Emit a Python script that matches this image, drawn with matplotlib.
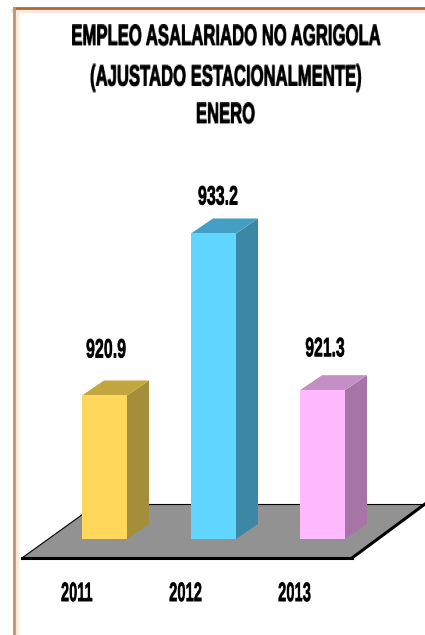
import matplotlib
matplotlib.use('Agg')
import numpy as np
import matplotlib.pyplot as plt
import matplotlib.patheffects as pe
from matplotlib.patches import Polygon

# chart data
years = ['2011', '2012', '2013']
values = [920.9, 933.2, 921.3]
title_lines = ['EMPLEO ASALARIADO NO AGRIGOLA', '(AJUSTADO ESTACIONALMENTE)', 'ENERO']

front_colors = ['#FFD75A', '#5FD5FF', '#FFB9FF']
side_colors = ['#A68D3A', '#3D87A6', '#A675A6']
top_colors = ['#C4A640', '#43A0C4', '#C48FC4']

plt.rcParams['font.family'] = ['Liberation Sans', 'DejaVu Sans']
plt.rcParams['font.weight'] = 'bold'

W, H = 425, 635
BASE = 910.0
PX_X = 109.0    # pixels per category
PX_Y = 13.17    # pixels per value unit
BAR_W = 45 / PX_X
DX = 22 / PX_X  # 3d depth
DY = 15 / PX_Y

# a bit heavier, the squeeze thins the strokes
heavy = [pe.withStroke(linewidth=0.7, foreground='black')]


# area resample along one axis
def resample(img, new_n, axis):
    img = np.moveaxis(img, axis, 0)
    n = img.shape[0]
    edges = np.linspace(0, n, new_n + 1)
    cum = np.concatenate([np.zeros((1,) + img.shape[1:]), np.cumsum(img, axis=0)], axis=0)
    lo = np.minimum(edges.astype(int), n - 1)
    frac = (edges - lo).reshape((-1,) + (1,) * (img.ndim - 1))
    at_edges = cum[lo] + (cum[lo + 1] - cum[lo]) * frac
    out = np.diff(at_edges, axis=0) / (n / new_n)
    return np.moveaxis(out, 0, axis)


# the original text is squeezed sideways, no narrow font here so do it on the drawn text
def squeeze(fx, fy=1.0):
    def process(img, dpi):
        h, w = img.shape[:2]
        new_w = max(1, int(round(w * fx)))
        new_h = max(1, int(round(h * fy)))
        out = resample(resample(img, new_w, 1), new_h, 0)
        return np.clip(out, 0, 1), (w - new_w) // 2, (h - new_h) // 2
    return process


fig = plt.figure(figsize=(W / 100, H / 100), dpi=100)
ax = fig.add_axes([0, 0, 1, 1])
x0 = -104.5 / PX_X
y0 = BASE - 96 / PX_Y
ax.set_xlim(x0, x0 + W / PX_X)
ax.set_ylim(y0, y0 + H / PX_Y)
ax.axis('off')


# pixel helpers, only for floor and frame decoration
def px(x, y):
    return (x0 + x / PX_X, y0 + (H - y) / PX_Y)


# frame
ax.add_line(plt.Line2D(*zip(px(13, 11), px(425, 11)), color='#FBE9E0', lw=3, zorder=1))
ax.add_line(plt.Line2D(*zip(px(17, 8), px(17, 635)), color='#FBE9E0', lw=2.5, zorder=1))
ax.add_line(plt.Line2D(*zip(px(13.5, 8.5), px(425, 8.5)), color='#B5652F', lw=2, zorder=2))
ax.add_line(plt.Line2D(*zip(px(14.2, 8), px(14.2, 635)), color='#C4906E', lw=2, zorder=2))

# floor
floor = [px(22, 558), px(352, 558), px(425, 504), px(97, 504)]
ax.add_patch(Polygon(floor, closed=True, facecolor='#929292', edgecolor='none', zorder=2))
ax.add_line(plt.Line2D(*zip(floor[3], floor[0]), color='black', lw=0.8, zorder=3))
ax.add_line(plt.Line2D(*zip(floor[3], floor[2]), color='black', lw=0.8, zorder=3))
ax.add_line(plt.Line2D(*zip(floor[0], floor[1]), color='black', lw=2.2, zorder=3))
ax.add_line(plt.Line2D(*zip(floor[1], floor[2]), color='black', lw=2.2, zorder=3))

# bars
xs = list(range(len(values)))
ax.bar(xs, [v - BASE for v in values], bottom=BASE, width=BAR_W, color=front_colors, zorder=5)
for x, v, sc, tc in zip(xs, values, side_colors, top_colors):
    r = x + BAR_W / 2
    l = x - BAR_W / 2
    ax.add_patch(Polygon([(r, BASE), (r + DX, BASE + DY), (r + DX, v + DY), (r, v)],
                         closed=True, facecolor=sc, edgecolor='none', zorder=4))
    ax.add_patch(Polygon([(l, v), (r, v), (r + DX, v + DY), (l + DX, v + DY)],
                         closed=True, facecolor=tc, edgecolor='none', zorder=4))

# value labels
label_dx = [1.5 / PX_X, 4.5 / PX_X, 3 / PX_X]
label_dy = [45 / PX_Y, 36 / PX_Y, 41 / PX_Y]
for x, v, ldx, ldy in zip(xs, values, label_dx, label_dy):
    t = ax.text(x + ldx, v + ldy, f'{v:.1f}', ha='center', va='center', fontsize=19, fontweight='bold',
                zorder=6, path_effects=heavy)
    t.set_agg_filter(squeeze(0.6))

# year labels
for x, year in zip(xs, years):
    tx, ty = px(0, 594)
    t = ax.text(x - 28 / PX_X, ty, year, ha='center', va='center', fontsize=19, fontweight='bold',
                zorder=6, path_effects=heavy)
    t.set_agg_filter(squeeze(0.56))

# title
for line, ypx in zip(title_lines, [37, 78, 115]):
    tx, ty = px(226, ypx)
    t = ax.text(tx, ty, line, ha='center', va='center', fontsize=15.4, fontweight='bold',
                zorder=6, path_effects=heavy)
    t.set_agg_filter(squeeze(0.78, 1.36))

fig.savefig('out.png', dpi=100, facecolor='white')
